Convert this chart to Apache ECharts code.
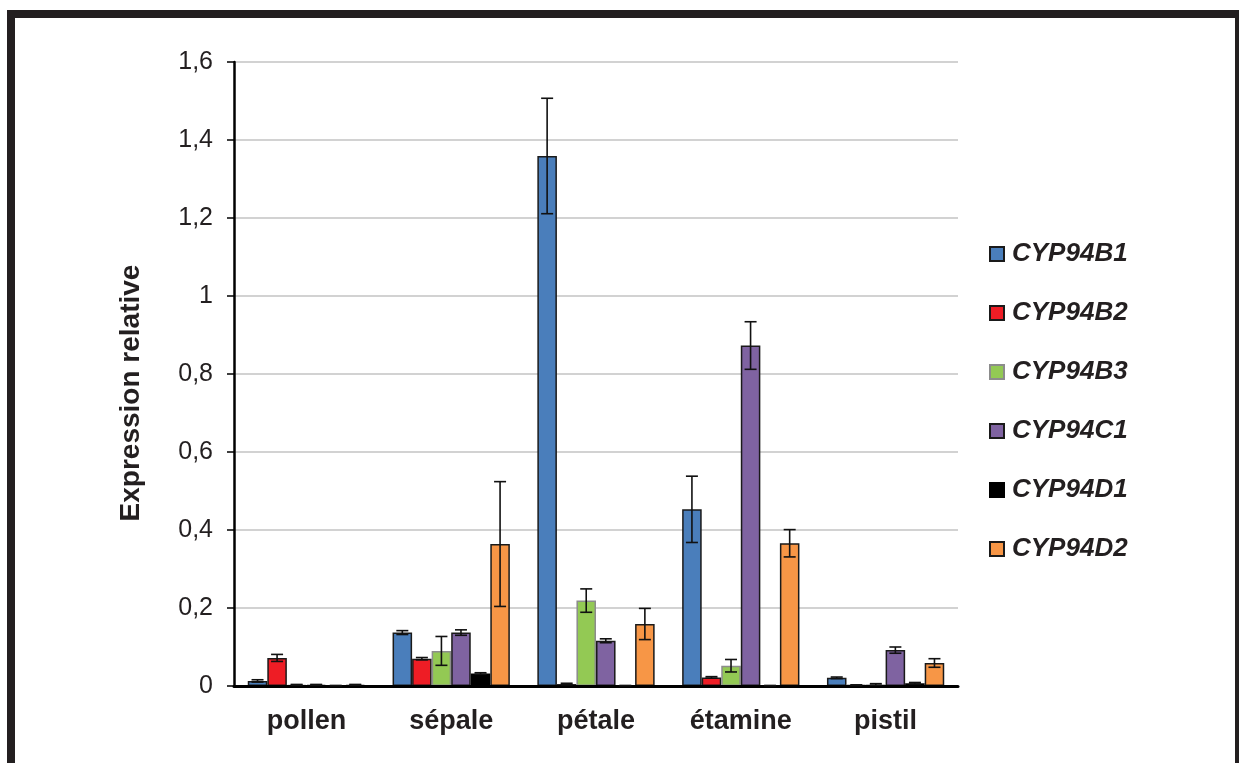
<!DOCTYPE html>
<html>
<head>
	<meta charset="utf-8">
	<title>Expression relative</title>
	<script type="text/javascript" src="https://cdn.jsdelivr.net/npm/echarts@6/dist/echarts.min.js"></script>
	<style>body{margin:0;background:#fff}</style>
</head>
<body>
<div id="main" style="width: 1239px; height: 763px"></div>

<script type="text/javascript">
var organes = ['pollen', 'sépale', 'pétale', 'étamine', 'pistil'];
var genes = ['CYP94B1', 'CYP94B2', 'CYP94B3', 'CYP94C1', 'CYP94D1', 'CYP94D2'];
var couleurs = ['#4a7ebb', '#ee1d25', '#93c954', '#7f63a1', '#000000', '#f79646'];
var bordures = ['#1a1a1a', '#1a1a1a', '#8c8c8c', '#1a1a1a', '#000000', '#1a1a1a'];

// valeurs par gène (pollen, sépale, pétale, étamine, pistil)
var CYP94B1 = [0.013, 0.137, 1.359, 0.453, 0.021];
var CYP94B2 = [0.072, 0.070, 0.005, 0.022, 0.002];
var CYP94B3 = [0.003, 0.090, 0.219, 0.052, 0.004];
var CYP94C1 = [0.003, 0.137, 0.116, 0.873, 0.092];
var CYP94D1 = [0.001, 0.032, 0.001, 0.001, 0.007];
var CYP94D2 = [0.003, 0.364, 0.159, 0.366, 0.059];

// erreurs
var errB1 = [0.003, 0.005, 0.148, 0.085, 0.002];
var errB2 = [0.009, 0.003, 0.002, 0.002, 0.001];
var errB3 = [0.001, 0.037, 0.030, 0.016, 0.002];
var errC1 = [0.001, 0.007, 0.005, 0.061, 0.008];
var errD1 = [0.000, 0.002, 0.000, 0.000, 0.002];
var errD2 = [0.001, 0.160, 0.040, 0.035, 0.011];

var valeurs = [CYP94B1, CYP94B2, CYP94B3, CYP94C1, CYP94D1, CYP94D2];
var erreurs = [errB1, errB2, errB3, errC1, errD1, errD2];

var largeurBarre = 0.135;

var myChart = echarts.init(document.getElementById('main'));

var series = [];
genes.forEach(function (g, i) {
    series.push({
        name: g,
        type: 'bar',
        data: valeurs[i],
        barWidth: (largeurBarre * 100) + '%',
        barGap: '0%',
        itemStyle: {color: couleurs[i], borderColor: bordures[i], borderWidth: 1.5},
        z: 2
    });
});
genes.forEach(function (g, i) {
    series.push({
        name: 'err_' + g,
        type: 'custom',
        z: 10,
        silent: true,
        encode: {x: 0, y: [1, 2]},
        data: valeurs[i].map(function (v, k) {
            return [k, v - erreurs[i][k], v + erreurs[i][k]];
        }),
        renderItem: function (params, api) {
            var k = api.value(0);
            var lo = api.coord([k, api.value(1)]);
            var hi = api.coord([k, api.value(2)]);
            var band = api.size([1, 0])[0];
            var x = lo[0] + (i - 2.5) * largeurBarre * band;
            var cap = 6;
            var st = {stroke: '#111', lineWidth: 1.6};
            return {
                type: 'group',
                children: [
                    {type: 'line', shape: {x1: x, y1: hi[1], x2: x, y2: lo[1]}, style: st},
                    {type: 'line', shape: {x1: x - cap, y1: hi[1], x2: x + cap, y2: hi[1]}, style: st},
                    {type: 'line', shape: {x1: x - cap, y1: lo[1], x2: x + cap, y2: lo[1]}, style: st}
                ]
            };
        }
    });
});

option = {
    animation: false,
    textStyle: {fontFamily: 'Liberation Sans, Arial, sans-serif'},
    grid: {left: 234, right: 281, top: 62, bottom: 77},
    legend: {
        data: genes,
        orient: 'vertical',
        left: 989,
        top: 239,
        padding: 0,
        itemWidth: 14,
        itemHeight: 14,
        itemGap: 29,
        icon: 'rect',
        textStyle: {fontSize: 26, fontWeight: 'bold', fontStyle: 'italic', color: '#231f20', lineHeight: 30, padding: [0, 0, 0, 3]},
        selectedMode: false
    },
    xAxis: {
        type: 'category',
        data: organes,
        z: 5,
        axisLine: {lineStyle: {color: '#000', width: 3}},
        axisTick: {length: 8, lineStyle: {color: '#000', width: 2}},
        axisLabel: {fontSize: 27, fontWeight: 'bold', color: '#231f20', margin: 22}
    },
    yAxis: {
        type: 'value',
        min: 0,
        max: 1.6,
        interval: 0.2,
        name: 'Expression relative',
        nameLocation: 'middle',
        nameGap: 89,
        nameTextStyle: {fontSize: 28, fontWeight: 'bold', color: '#231f20', padding: [0, 38, 0, 0]},
        axisLine: {show: true, lineStyle: {color: '#000', width: 2.5}},
        axisTick: {show: true, length: 7, lineStyle: {color: '#000', width: 1.5}},
        axisLabel: {
            fontSize: 25,
            color: '#231f20',
            margin: 21,
            formatter: function (v) { return String(+v.toFixed(1)).replace('.', ','); }
        },
        splitLine: {lineStyle: {color: '#c3c3c3', width: 1.5}}
    },
    graphic: [{
        type: 'rect',
        shape: {x: 11, y: 14, width: 1228, height: 800},
        style: {fill: 'none', stroke: '#231f20', lineWidth: 8},
        silent: true
    }],
    series: series
};

myChart.setOption(option);
</script>
</body>
</html>
